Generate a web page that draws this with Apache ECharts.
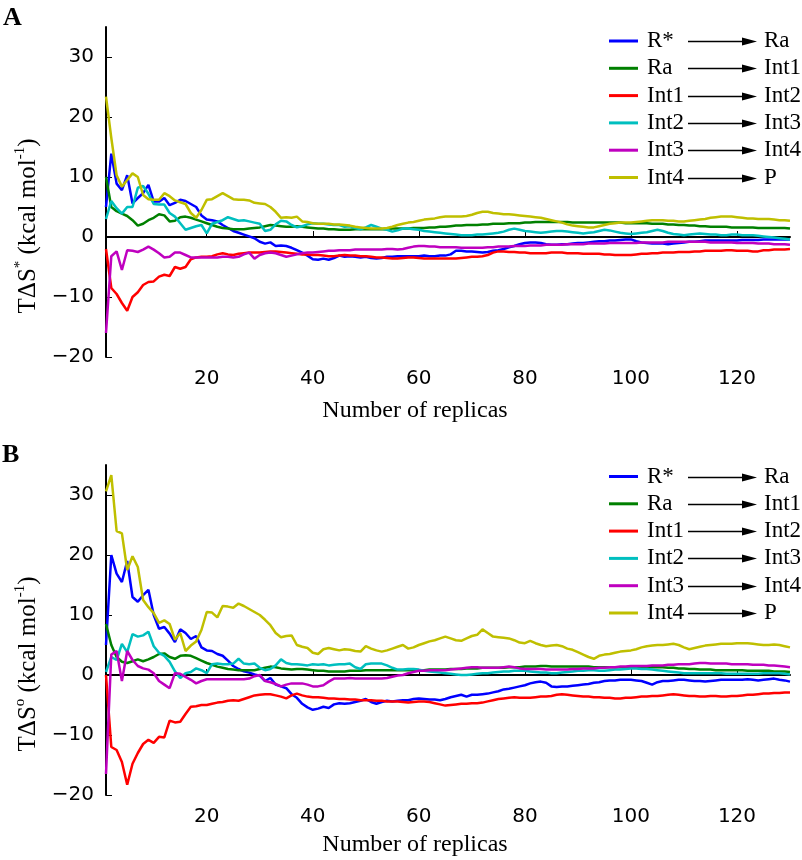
<!DOCTYPE html>
<html>
<head>
<meta charset="utf-8">
<script src="https://cdn.jsdelivr.net/npm/echarts@6/dist/echarts.min.js"></script>
<style>
html,body{margin:0;padding:0;background:#fff;}
#chart{width:802px;height:860px;}
</style>
</head>
<body>
<div id="chart"></div>
<script>
// ---- categories / labels ----
const replicas = Array.from({length: 130}, (_, i) => i + 1);
const fromStates = ['R*', 'Ra', 'Int1', 'Int2', 'Int3', 'Int4'];
const toStates = ['Ra', 'Int1', 'Int2', 'Int3', 'Int4', 'P'];
const xTicks = [20, 40, 60, 80, 100, 120];
const yTicks = [-20, -10, 0, 10, 20, 30];
const colors = ['#0000ff', '#008000', '#ff0000', '#00bfbf', '#bf00bf', '#bfbf00'];

// ---- Panel A: TΔS* ----
const A_RstarRa = [5.0,13.9,8.9,7.8,10.3,5.6,6.5,7.3,8.7,5.9,
5.9,6.5,5.3,5.7,6.2,6.0,5.5,5.0,3.6,2.9,
2.8,2.6,2.0,1.5,1.0,0.7,0.4,0.1,-0.2,-0.8,
-1.1,-0.9,-1.5,-1.4,-1.5,-1.8,-2.2,-2.6,-3.1,-3.7,
-3.8,-3.6,-3.8,-3.5,-3.1,-3.3,-3.2,-3.3,-3.4,-3.3,
-3.5,-3.6,-3.5,-3.3,-3.3,-3.2,-3.2,-3.2,-3.2,-3.2,
-3.1,-3.2,-3.2,-3.1,-3.1,-2.9,-2.3,-2.3,-2.4,-2.4,
-2.5,-2.6,-2.5,-2.3,-2.2,-2.0,-1.7,-1.5,-1.2,-1.0,
-0.9,-0.9,-1.0,-1.2,-1.3,-1.3,-1.2,-1.2,-1.1,-1.0,
-1.0,-0.9,-0.8,-0.7,-0.7,-0.6,-0.6,-0.5,-0.4,-0.4,
-0.7,-0.9,-1.0,-1.1,-1.1,-1.1,-1.2,-1.1,-1.0,-0.9,
-0.8,-0.8,-0.7,-0.6,-0.6,-0.6,-0.6,-0.6,-0.6,-0.6,
-0.5,-0.5,-0.5,-0.5,-0.4,-0.4,-0.4,-0.4,-0.4,-0.4];
const A_RaInt1 = [10.0,5.0,4.3,3.9,3.5,2.8,1.9,2.2,2.8,3.2,
3.8,3.6,2.6,2.7,3.3,3.4,3.2,2.9,2.6,2.3,
2.0,1.7,1.5,1.4,1.3,1.3,1.3,1.4,1.5,1.6,
1.8,2.0,1.9,1.8,1.7,1.7,1.8,1.7,1.6,1.5,
1.4,1.4,1.3,1.3,1.2,1.2,1.2,1.3,1.3,1.3,
1.3,1.3,1.3,1.3,1.4,1.4,1.4,1.4,1.5,1.5,
1.5,1.6,1.6,1.7,1.7,1.8,1.9,1.9,2.0,2.0,
2.0,2.1,2.1,2.2,2.2,2.2,2.3,2.3,2.3,2.4,
2.4,2.5,2.5,2.5,2.5,2.5,2.5,2.5,2.4,2.4,
2.4,2.4,2.4,2.4,2.4,2.4,2.4,2.4,2.3,2.3,
2.3,2.3,2.3,2.2,2.2,2.2,2.1,2.1,2.0,2.0,
1.9,1.9,1.8,1.8,1.7,1.7,1.7,1.7,1.6,1.6,
1.6,1.6,1.6,1.5,1.5,1.5,1.5,1.5,1.5,1.4];
const A_Int1Int2 = [-2.0,-8.5,-9.5,-11.0,-12.3,-10.0,-9.2,-8.0,-7.5,-7.4,
-6.6,-6.3,-6.5,-5.0,-5.3,-5.0,-3.7,-3.4,-3.3,-3.3,
-3.2,-2.9,-2.7,-2.9,-3.0,-2.8,-2.7,-2.6,-2.6,-2.6,
-2.5,-2.4,-2.4,-2.5,-2.6,-2.7,-2.8,-2.9,-2.9,-3.0,
-3.0,-3.1,-3.2,-3.2,-3.1,-3.0,-3.1,-3.1,-3.2,-3.2,
-3.3,-3.4,-3.4,-3.5,-3.6,-3.6,-3.5,-3.4,-3.4,-3.5,
-3.6,-3.6,-3.6,-3.6,-3.6,-3.6,-3.6,-3.5,-3.4,-3.3,
-3.3,-3.2,-3.0,-2.6,-2.4,-2.4,-2.5,-2.5,-2.6,-2.6,
-2.7,-2.7,-2.7,-2.7,-2.6,-2.6,-2.6,-2.7,-2.7,-2.7,
-2.8,-2.8,-2.8,-2.8,-2.9,-2.9,-3.0,-3.0,-3.0,-3.0,
-2.9,-2.8,-2.8,-2.7,-2.7,-2.6,-2.6,-2.6,-2.5,-2.5,
-2.5,-2.4,-2.4,-2.3,-2.3,-2.3,-2.3,-2.2,-2.2,-2.3,
-2.3,-2.3,-2.4,-2.4,-2.2,-2.2,-2.1,-2.1,-2.1,-2.0];
const A_Int2Int3 = [3.0,6.0,4.8,3.9,5.0,5.0,8.2,8.5,7.2,5.5,
5.4,5.4,4.0,3.4,2.3,1.2,1.5,1.8,2.0,0.6,
2.2,2.5,2.8,3.3,3.0,2.7,2.8,2.6,2.4,2.2,
1.0,1.2,2.1,2.7,2.6,2.0,1.6,1.8,2.1,2.3,
2.2,2.2,2.1,2.0,2.0,1.7,1.8,1.5,1.3,1.6,
2.0,1.7,1.4,1.2,0.9,1.1,1.4,1.4,1.3,1.2,
1.0,0.9,0.8,0.7,0.6,0.5,0.4,0.3,0.3,0.3,
0.4,0.4,0.5,0.6,0.7,0.9,1.2,1.4,1.2,1.0,
0.9,0.8,0.7,0.8,0.9,1.0,1.0,0.9,0.8,0.7,
0.6,0.7,0.8,1.0,1.2,1.1,0.9,0.7,0.6,0.5,
0.6,0.7,0.8,1.0,1.2,1.0,0.7,0.5,0.4,0.3,
0.4,0.5,0.6,0.5,0.4,0.4,0.3,0.3,0.4,0.4,
0.3,0.3,0.3,0.2,0.1,0.0,-0.1,-0.2,-0.3,-0.4];
const A_Int3Int4 = [-16.0,-3.2,-2.4,-5.5,-2.2,-2.3,-2.5,-2.1,-1.6,-2.1,
-2.7,-3.4,-3.3,-2.6,-2.6,-3.0,-3.4,-3.4,-3.4,-3.4,
-3.4,-3.4,-3.3,-3.3,-3.4,-3.3,-2.9,-2.6,-3.6,-3.0,
-2.7,-2.6,-2.7,-3.0,-3.3,-3.1,-2.9,-2.7,-2.6,-2.6,
-2.5,-2.4,-2.3,-2.3,-2.2,-2.2,-2.2,-2.1,-2.1,-2.1,
-2.1,-2.1,-2.1,-2.0,-2.0,-2.1,-2.0,-1.8,-1.6,-1.5,
-1.5,-1.6,-1.6,-1.7,-1.7,-1.7,-1.7,-1.8,-1.8,-1.8,
-1.8,-1.8,-1.7,-1.7,-1.6,-1.6,-1.6,-1.5,-1.5,-1.5,
-1.4,-1.4,-1.4,-1.3,-1.3,-1.3,-1.3,-1.2,-1.2,-1.2,
-1.2,-1.1,-1.1,-1.1,-1.1,-1.0,-1.0,-1.0,-1.0,-1.0,
-1.0,-0.9,-0.9,-0.9,-0.9,-0.9,-0.8,-0.8,-0.8,-0.8,
-0.8,-0.8,-0.8,-0.8,-0.9,-0.9,-0.9,-0.9,-0.9,-1.0,
-1.0,-1.0,-1.0,-1.1,-1.1,-1.1,-1.2,-1.2,-1.2,-1.3];
const A_Int4P = [23.4,16.5,10.3,8.4,9.5,10.6,10.0,7.0,6.3,6.2,
6.2,7.3,6.8,6.1,5.8,5.5,4.0,3.2,4.5,6.2,
6.3,6.8,7.3,6.8,6.3,6.2,6.2,6.1,5.7,5.6,
5.5,5.0,4.2,3.2,3.3,3.2,3.4,2.6,2.5,2.3,
2.2,2.2,2.2,2.1,2.1,2.0,1.9,1.7,1.6,1.5,
1.4,1.4,1.4,1.5,1.7,2.0,2.2,2.4,2.5,2.7,
2.9,3.0,3.1,3.3,3.4,3.4,3.4,3.4,3.5,3.7,
4.0,4.2,4.2,4.0,3.9,3.8,3.8,3.7,3.6,3.5,
3.4,3.3,3.2,3.0,2.8,2.6,2.4,2.1,1.9,1.8,
1.7,1.6,1.6,1.8,2.0,2.2,2.3,2.4,2.4,2.4,
2.5,2.6,2.7,2.8,2.8,2.8,2.7,2.7,2.6,2.6,
2.7,2.8,2.9,3.0,3.2,3.3,3.4,3.4,3.4,3.3,
3.2,3.1,3.1,3.0,3.0,3.0,2.9,2.8,2.8,2.7];

// ---- Panel B: TΔS° ----
const B_RstarRa = [5.0,20.0,16.9,15.5,19.0,13.0,12.2,13.3,14.2,10.0,
7.7,8.0,6.9,5.5,7.6,7.0,6.0,6.5,4.6,4.1,
4.0,3.5,3.2,2.4,1.5,1.0,0.6,0.4,0.1,-0.1,
-1.0,-0.5,-1.6,-1.9,-2.2,-3.2,-3.8,-4.8,-5.4,-5.8,
-5.6,-5.3,-5.5,-4.9,-4.7,-4.8,-4.7,-4.5,-4.3,-4.0,
-4.5,-4.8,-4.5,-4.3,-4.4,-4.3,-4.2,-4.2,-4.0,-3.9,
-4.0,-4.1,-4.1,-4.2,-4.0,-3.7,-3.5,-3.3,-3.6,-3.3,
-3.3,-3.2,-3.1,-2.9,-2.7,-2.4,-2.3,-2.1,-1.9,-1.7,
-1.4,-1.2,-1.1,-1.3,-1.9,-2.0,-1.9,-1.9,-1.8,-1.7,
-1.6,-1.5,-1.3,-1.2,-1.0,-0.9,-0.9,-0.8,-0.8,-0.8,
-0.9,-1.0,-1.3,-1.6,-1.2,-1.0,-1.0,-0.9,-0.8,-0.8,
-0.9,-1.0,-1.0,-1.1,-1.0,-0.9,-0.8,-0.8,-0.8,-0.8,
-0.8,-0.7,-0.8,-0.9,-0.8,-0.7,-0.6,-0.8,-0.9,-1.1];
const B_RaInt1 = [8.5,5.0,3.0,2.2,2.0,2.3,2.6,2.3,2.6,3.0,
3.5,3.6,3.0,2.7,3.2,3.3,3.2,2.8,2.4,2.0,
1.7,1.4,1.2,1.0,0.9,0.8,0.8,0.8,0.8,1.0,
1.2,1.4,1.3,1.1,1.0,0.9,1.0,1.0,0.9,0.8,
0.7,0.7,0.6,0.6,0.6,0.6,0.7,0.7,0.7,0.8,
0.8,0.8,0.8,0.8,0.8,0.8,0.8,0.8,0.8,0.8,
0.8,0.9,0.9,0.9,0.9,1.0,1.0,1.0,1.1,1.1,
1.1,1.2,1.2,1.2,1.2,1.2,1.3,1.3,1.3,1.4,
1.4,1.4,1.5,1.5,1.4,1.4,1.4,1.4,1.4,1.4,
1.4,1.4,1.3,1.3,1.3,1.3,1.3,1.3,1.3,1.3,
1.3,1.3,1.3,1.3,1.3,1.3,1.2,1.2,1.1,1.1,
1.0,1.0,0.9,0.9,0.9,0.8,0.8,0.8,0.8,0.8,
0.8,0.7,0.7,0.7,0.7,0.7,0.6,0.6,0.6,0.5];
const B_Int1Int2 = [0.0,-12.0,-12.5,-14.5,-18.3,-14.8,-13.0,-11.5,-10.8,-11.3,
-10.3,-10.4,-7.6,-7.9,-7.8,-6.5,-5.3,-5.2,-5.0,-5.0,
-4.8,-4.6,-4.5,-4.3,-4.2,-4.3,-4.0,-3.7,-3.4,-3.3,
-3.2,-3.2,-3.4,-3.6,-3.9,-3.4,-3.1,-3.4,-3.6,-3.7,
-3.7,-3.8,-3.9,-3.9,-4.0,-4.0,-4.1,-4.1,-4.2,-4.2,
-4.2,-4.3,-4.3,-4.4,-4.4,-4.4,-4.5,-4.6,-4.5,-4.4,
-4.4,-4.5,-4.7,-4.9,-5.1,-5.0,-4.9,-4.8,-4.8,-4.7,
-4.7,-4.6,-4.4,-4.2,-4.0,-3.9,-3.8,-3.7,-3.8,-3.8,
-3.8,-3.7,-3.6,-3.6,-3.5,-3.3,-3.2,-3.3,-3.4,-3.5,
-3.6,-3.6,-3.7,-3.7,-3.8,-3.8,-3.9,-3.9,-3.8,-3.8,
-3.7,-3.6,-3.6,-3.5,-3.5,-3.4,-3.3,-3.2,-3.3,-3.4,
-3.5,-3.5,-3.6,-3.6,-3.5,-3.5,-3.6,-3.6,-3.5,-3.5,
-3.4,-3.3,-3.3,-3.2,-3.1,-3.1,-3.0,-3.0,-2.9,-2.9];
const B_Int2Int3 = [0.5,3.0,2.5,5.2,3.8,6.8,6.4,6.6,7.2,4.8,
3.7,3.2,2.2,0.6,-0.5,0.3,0.5,1.1,0.8,0.3,
1.8,1.9,1.8,1.8,1.9,2.7,1.9,1.8,1.9,1.2,
0.8,1.0,1.6,2.6,2.0,1.8,1.8,1.7,1.6,1.8,
1.7,1.8,1.6,1.7,1.8,1.8,1.9,1.3,1.0,1.8,
1.9,1.9,1.9,1.6,1.2,0.9,0.9,1.0,1.0,0.9,
0.7,0.6,0.5,0.4,0.3,0.2,0.1,0.0,0.0,0.1,
0.2,0.3,0.3,0.4,0.5,0.6,0.6,0.7,0.7,0.7,
0.6,0.5,0.4,0.4,0.3,0.3,0.4,0.5,0.6,0.7,
0.7,0.8,0.8,0.7,0.7,0.8,0.9,0.9,1.0,1.1,
1.1,1.0,1.0,0.9,0.8,0.7,0.6,0.5,0.4,0.3,
0.3,0.3,0.3,0.3,0.3,0.3,0.3,0.2,0.2,0.2,
0.2,0.2,0.2,0.2,0.3,0.3,0.3,0.3,0.2,0.1];
const B_Int3Int4 = [-16.5,3.4,4.0,-1.0,4.0,2.5,1.5,1.1,0.9,0.3,
-1.0,-1.6,-2.2,0.3,0.2,-0.3,-0.8,-1.4,-1.0,-0.7,
-0.7,-0.7,-0.7,-0.7,-0.7,-0.7,-0.7,-0.6,-0.2,0.0,
-1.0,-1.2,-1.5,-1.9,-1.6,-1.4,-1.4,-1.4,-1.6,-1.9,
-1.9,-1.7,-1.1,-0.6,-0.6,-0.6,-0.5,-0.6,-0.6,-0.6,
-0.6,-0.6,-0.6,-0.5,-0.3,-0.1,0.0,0.3,0.5,0.7,
0.7,0.8,0.8,0.8,0.8,0.9,1.0,1.1,1.2,1.3,
1.3,1.2,1.2,1.2,1.2,1.3,1.4,1.3,1.1,1.0,
1.0,1.0,1.0,0.9,0.9,0.9,0.9,0.9,1.0,1.0,
1.1,1.1,1.1,1.2,1.2,1.3,1.3,1.4,1.4,1.5,
1.5,1.5,1.5,1.6,1.6,1.6,1.7,1.7,1.8,1.8,
1.8,1.9,2.0,2.0,1.9,1.9,1.9,1.9,1.8,1.8,
1.8,1.8,1.7,1.7,1.7,1.6,1.6,1.5,1.4,1.3];
const B_Int4P = [30.6,33.3,24.0,23.6,17.5,19.8,18.0,12.5,11.3,10.3,
8.7,9.1,8.5,5.9,7.0,4.0,4.9,5.6,7.5,10.5,
10.4,9.6,11.5,11.4,11.2,11.9,11.5,11.0,10.5,10.0,
9.2,8.3,7.0,6.3,6.5,6.6,5.0,4.7,4.5,3.7,
3.5,4.3,4.5,4.3,4.1,4.3,4.2,4.0,3.9,4.8,
4.4,4.1,3.9,4.1,4.4,4.7,5.0,4.4,4.6,5.0,
5.3,5.6,5.8,6.1,6.4,6.1,5.8,5.7,6.1,6.5,
6.7,7.6,7.0,6.4,6.3,6.2,6.1,5.8,5.4,5.3,
5.7,5.3,5.0,4.8,4.9,5.0,4.8,4.4,4.2,3.8,
3.4,3.0,2.7,3.2,3.4,3.5,3.7,3.9,4.0,4.1,
4.3,4.6,4.8,4.9,5.0,5.0,5.1,5.2,5.0,4.6,
4.3,4.5,4.7,4.9,5.0,5.1,5.2,5.2,5.2,5.3,
5.3,5.3,5.2,5.1,5.0,5.0,5.1,5.0,4.8,4.6];

const panelA = [A_RstarRa, A_RaInt1, A_Int1Int2, A_Int2Int3, A_Int3Int4, A_Int4P];
const panelB = [B_RstarRa, B_RaInt1, B_Int1Int2, B_Int2Int3, B_Int3Int4, B_Int4P];
const seriesNames = fromStates.map((f, i) => f + ' \u2192 ' + toStates[i]);

// ---- layout ----
const grids = [
  {left: 106, top: 27, width: 684, height: 330},
  {left: 106, top: 465, width: 684, height: 330}
];
const legendTops = [29.5, 465];
const rowH = 27.3;
const itemH = 23;
const serif = '"Liberation Serif", "Times New Roman", serif';
const sans = '"DejaVu Sans", sans-serif';
const supMarks = ['*', 'o'];

function xAxisFor(i) {
  return {
    type: 'value', gridIndex: i, min: 1, max: 130,
    name: 'Number of replicas', nameLocation: 'middle', nameGap: i === 0 ? 42 : 38,
    nameTextStyle: {fontFamily: serif, fontSize: 24, color: '#000', padding: [0, 66, 0, 0]},
    axisLine: {lineStyle: {color: '#000', width: 2}},
    axisTick: {inside: true, length: 6, customValues: xTicks, lineStyle: {color: '#000', width: 1}},
    axisLabel: {customValues: xTicks, fontFamily: sans, fontSize: 20, color: '#000', margin: 12},
    splitLine: {show: false}
  };
}
function yAxisFor(i) {
  return {
    type: 'value', gridIndex: i, min: -20, max: 35,
    name: '{m|T\u0394S}{s|' + supMarks[i] + '}{m| (kcal mol}{s|-1}{m|)}',
    nameLocation: 'middle', nameGap: 58, nameRotate: 90,
    nameTextStyle: {
      padding: [0, 68, 0, 0],
      rich: {
        m: {fontFamily: serif, fontSize: 25, color: '#000', lineHeight: 28, verticalAlign: 'bottom'},
        s: {fontFamily: serif, fontSize: 15, color: '#000', lineHeight: 16, verticalAlign: 'top'}
      }
    },
    axisLine: {show: true, lineStyle: {color: '#000', width: 2}},
    axisTick: {show: true, inside: true, length: 6, customValues: yTicks, lineStyle: {color: '#000', width: 1}},
    axisLabel: {customValues: yTicks, fontFamily: sans, fontSize: 20, color: '#000', margin: 12,
      formatter: v => String(v).replace('-', '\u2212')},
    splitLine: {show: false}
  };
}

const series = [];
[panelA, panelB].forEach((panel, p) => {
  panel.forEach((vals, k) => {
    series.push({
      type: 'line', name: seriesNames[k], xAxisIndex: p, yAxisIndex: p,
      data: replicas.map((x, j) => [x, vals[j]]),
      showSymbol: false, symbol: 'none',
      lineStyle: {color: colors[k], width: 2.5},
      itemStyle: {color: colors[k]},
      silent: true
    });
  });
});

const legends = legendTops.map(t => ({
  orient: 'vertical', left: 609, top: t, padding: 0, itemGap: rowH - itemH,
  itemWidth: 29, itemHeight: 3, icon: 'rect', selectedMode: false,
  data: seriesNames.map((n, k) => ({name: n, itemStyle: {color: colors[k]}})),
  formatter: n => {
    const k = seriesNames.indexOf(n);
    return '{l|' + fromStates[k] + '}{r|' + toStates[k] + '}';
  },
  textStyle: {
    rich: {
      l: {fontFamily: serif, fontSize: 23, color: '#000', width: 117, lineHeight: itemH, padding: [0, 0, 0, 4]},
      r: {fontFamily: serif, fontSize: 23, color: '#000', lineHeight: itemH}
    }
  }
}));

// legend arrows (decoration between the two state labels)
const graphics = [];
legendTops.forEach(t => {
  for (let k = 0; k < 6; k++) {
    const y = Math.round(t + rowH * k + itemH / 2) + 0.5;
    graphics.push({type: 'line', shape: {x1: 688, y1: y, x2: 748, y2: y}, style: {stroke: '#000', lineWidth: 1.6}, silent: true});
    graphics.push({type: 'polygon', shape: {points: [[742, y - 4], [757, y], [742, y + 4]]}, style: {fill: '#000'}, silent: true});
  }
});
graphics.push({type: 'text', left: 3, top: 5, style: {text: 'A', font: 'bold 26px ' + serif, fill: '#000'}});
graphics.push({type: 'text', left: 2, top: 442, style: {text: 'B', font: 'bold 26px ' + serif, fill: '#000'}});

const chart = echarts.init(document.getElementById('chart'), null, {renderer: 'canvas'});
chart.setOption({
  animation: false,
  backgroundColor: '#fff',
  grid: grids,
  xAxis: [xAxisFor(0), xAxisFor(1)],
  yAxis: [yAxisFor(0), yAxisFor(1)],
  legend: legends,
  series: series,
  graphic: graphics
});
</script>
</body>
</html>
